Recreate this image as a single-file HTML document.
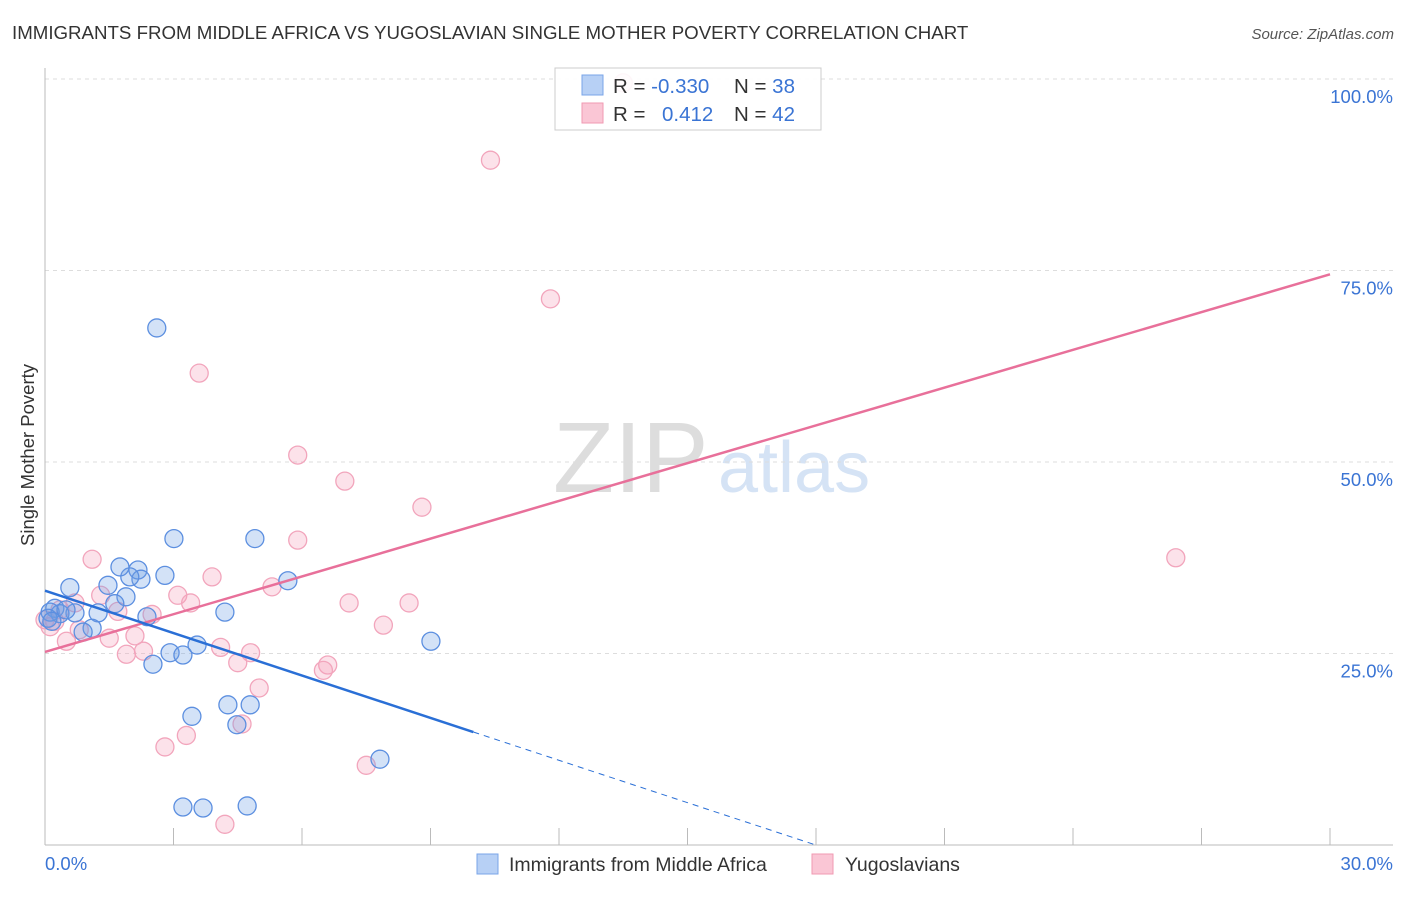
<!DOCTYPE html>
<html><head><meta charset="utf-8"><style>
body{margin:0;background:#fff;font-family:"Liberation Sans",sans-serif}
svg text{font-family:"Liberation Sans",sans-serif}
</style></head><body>
<svg width="1406" height="892" viewBox="0 0 1406 892">
<text x="12" y="39" font-size="18.7" fill="#333">IMMIGRANTS FROM MIDDLE AFRICA VS YUGOSLAVIAN SINGLE MOTHER POVERTY CORRELATION CHART</text>
<text x="1394" y="39" font-size="15" fill="#555" font-style="italic" text-anchor="end">Source: ZipAtlas.com</text>
<g>
<text x="553" y="492" font-size="100" fill="#ddd" font-family="Liberation Serif">ZIP</text>
<text x="718" y="492" font-size="72" fill="#d5e3f5">atlas</text>
</g>
<g id="grid"></g>
<g id="axes"></g>
<g id="pts"></g>
<g id="lines"></g>
<text x="28" y="455" font-size="18.5" fill="#333" transform="rotate(-90 28 455)" text-anchor="middle" dy="6">Single Mother Poverty</text>
<text x="45" y="870" font-size="18.5" fill="#3a74d4">0.0%</text>
<text x="1393" y="870" font-size="18.5" fill="#3a74d4" text-anchor="end">30.0%</text>
<g>
<rect x="555" y="68" width="266" height="62" fill="#fff" fill-opacity="0.9" stroke="#ccc"/>
<rect x="582" y="75" width="21" height="20" fill="#b7d0f5" stroke="#7aa5e8"/>
<rect x="582" y="103" width="21" height="20" fill="#fac6d5" stroke="#f09ab2"/>
<text x="613" y="93" font-size="20.5" fill="#333">R = <tspan fill="#3a74d4">-0.330</tspan></text>
<text x="734" y="93" font-size="20.5" fill="#333">N = <tspan fill="#3a74d4">38</tspan></text>
<text x="613" y="121" font-size="20.5" fill="#333">R = <tspan fill="#3a74d4" x="662">0.412</tspan></text>
<text x="734" y="121" font-size="20.5" fill="#333">N = <tspan fill="#3a74d4">42</tspan></text>
</g>
<g>
<rect x="477" y="854" width="21" height="20" fill="#b7d0f5" stroke="#7aa5e8"/>
<text x="509" y="871" font-size="19.5" fill="#333">Immigrants from Middle Africa</text>
<rect x="812" y="854" width="21" height="20" fill="#fac6d5" stroke="#f09ab2"/>
<text x="845" y="871" font-size="19.5" fill="#333">Yugoslavians</text>
</g>
</svg>
<script>
const yTicks=[25,50,75,100];
const yTickLabels=["25.0%","50.0%","75.0%","100.0%"];
const xTicks=[0,3,6,9,12,15,18,21,24,27,30];
const blueX=[2.61,3.01,4.90,5.67,9.01,7.82,3.22,3.69,4.72,4.27,4.79,4.48,3.43,4.20,3.55,2.92,3.22,2.52,2.38,2.80,2.17,2.24,1.98,1.75,1.47,1.89,1.63,0.58,0.23,0.70,1.24,0.35,1.10,0.89,0.12,0.07,0.16,0.49];
const blueY=[67.5,40.0,40.0,34.5,26.6,11.2,4.96,4.83,5.1,18.3,18.3,15.7,16.8,30.4,26.1,25.1,24.8,23.6,29.8,35.2,35.9,34.7,35.0,36.3,33.9,32.4,31.5,33.6,30.9,30.3,30.3,30.2,28.3,27.8,30.4,29.6,29.2,30.7];
const pinkX=[10.4,13.5,11.8,3.6,5.9,7.0,8.8,5.9,26.4,1.1,3.9,5.3,7.1,8.5,3.1,3.4,1.3,2.5,1.7,0.7,7.9,2.1,1.5,0.5,0.12,0.0,4.1,2.3,1.9,4.8,4.5,6.6,6.5,5.0,4.6,3.3,2.8,7.5,4.2,0.8,0.23,0.35];
const pinkY=[89.4,99.5,71.3,61.6,50.9,47.5,44.1,39.8,37.5,37.3,35.0,33.7,31.6,31.6,32.6,31.6,32.6,30.1,30.5,31.6,28.7,27.3,27.0,26.6,28.5,29.4,25.8,25.3,24.9,25.1,23.8,23.5,22.8,20.5,15.8,14.3,12.8,10.4,2.7,28.1,29.2,30.7];
const pinkFit=[25.2,74.5];
const blueFit=[33.2,-1.845];
const X=v=>45+v/30*1285, Y=v=>845-v/100*766;
const NS="http://www.w3.org/2000/svg";
function mk(t,a,p){const e=document.createElementNS(NS,t);for(const k in a)e.setAttribute(k,a[k]);p.appendChild(e);return e;}
const grid=document.getElementById('grid');
yTicks.forEach((v,i)=>{
  const l=mk('line',{x1:45,x2:1393,y1:Y(v),y2:Y(v),stroke:'#ddd','stroke-dasharray':'4,4'},grid);
  
  
  const t=mk('text',{x:1393,y:Y(v)+24,'font-size':18.5,fill:'#3a74d4','text-anchor':'end'},grid);
  t.textContent=yTickLabels[i];
  
  
});
const ax=document.getElementById('axes');
const la=mk('line',{x1:45,x2:45,y1:68,y2:845,stroke:'#bbb'},ax);


const ba=mk('line',{x1:45,x2:1393,y1:845,y2:845,stroke:'#bbb'},ax);


xTicks.forEach(v=>{
  const t=mk('line',{x1:X(v),x2:X(v),y1:828,y2:845,stroke:'#bbb'},ax);
  
  
});
const pts=document.getElementById('pts');
pinkX.forEach((x,i)=>{
  const c=mk('circle',{cx:X(x),cy:Y(pinkY[i]),r:9,fill:'rgba(244,160,185,0.3)',stroke:'#f2a5bc','stroke-width':1.3},pts);
  
  
});
blueX.forEach((x,i)=>{
  const c=mk('circle',{cx:X(x),cy:Y(blueY[i]),r:9,fill:'rgba(110,160,230,0.3)',stroke:'#5c8fe0','stroke-width':1.3},pts);
  
  
});
const ln=document.getElementById('lines');
const pl=mk('line',{x1:X(0),y1:Y(pinkFit[0]),x2:X(30),y2:Y(pinkFit[1]),stroke:'#e8709a','stroke-width':2.5},ln);


const bEnd=10, bZero=-blueFit[0]/blueFit[1];
const bl=mk('line',{x1:X(0),y1:Y(blueFit[0]),x2:X(bEnd),y2:Y(blueFit[0]+blueFit[1]*bEnd),stroke:'#2a6fd6','stroke-width':2.5},ln);


const bd=mk('line',{x1:X(bEnd),y1:Y(blueFit[0]+blueFit[1]*bEnd),x2:X(bZero),y2:Y(0),stroke:'#2a6fd6','stroke-width':1,'stroke-dasharray':'6,5'},ln);


</script>
</body></html>
